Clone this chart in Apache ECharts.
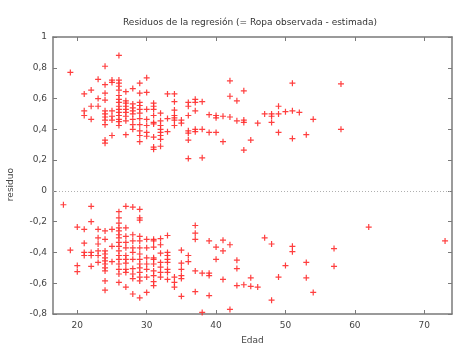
<!DOCTYPE html>
<html>
<head>
<meta charset="utf-8">
<script src="https://cdn.jsdelivr.net/npm/echarts@6/dist/echarts.min.js"></script>
<style>
html, body { margin: 0; padding: 0; background: #fff; }
#ct1 { width: 453px; height: 350px; }
</style>
</head>
<body>
<div id="ct1"></div>
<script>
// edades (x) y residuos, agrupados por edad
var edades = [18, 19, 20, 21, 22, 23, 24, 25, 26, 27, 28, 29, 30, 31, 32, 33, 34, 35, 36, 37,
	38, 39, 40, 41, 42, 43, 44, 45, 46, 47, 48, 49, 50, 51, 52, 53, 54, 57, 58, 62, 73];

var residuosPos = [
	[], [0.77], [], [0.63, 0.52, 0.49], [0.655, 0.55, 0.465], [0.725, 0.60, 0.55],
	[0.81, 0.69, 0.635, 0.59, 0.52, 0.50, 0.48, 0.46, 0.43, 0.33, 0.31],
	[0.72, 0.705, 0.52, 0.485, 0.46, 0.36],
	[0.88, 0.72, 0.70, 0.68, 0.655, 0.62, 0.595, 0.575, 0.55, 0.53, 0.51, 0.49, 0.465, 0.45, 0.425],
	[0.645, 0.585, 0.57, 0.55, 0.53, 0.51, 0.485, 0.455, 0.365],
	[0.665, 0.565, 0.54, 0.52, 0.50, 0.465, 0.43, 0.40],
	[0.70, 0.635, 0.575, 0.555, 0.53, 0.505, 0.47, 0.43, 0.39, 0.36, 0.32],
	[0.735, 0.64, 0.53, 0.465, 0.425, 0.38, 0.355],
	[0.57, 0.55, 0.53, 0.49, 0.445, 0.435, 0.35, 0.285, 0.27],
	[0.505, 0.455, 0.425, 0.40, 0.38, 0.36, 0.335, 0.29],
	[0.63, 0.47, 0.385],
	[0.63, 0.58, 0.525, 0.49, 0.475, 0.46, 0.425],
	[0.46, 0.44],
	[0.575, 0.55, 0.49, 0.39, 0.375, 0.33, 0.21],
	[0.595, 0.575, 0.52, 0.40, 0.385],
	[0.58, 0.40, 0.215], [0.495, 0.38], [0.49, 0.475, 0.38], [0.485, 0.32],
	[0.715, 0.615, 0.48], [0.585, 0.455], [0.65, 0.46, 0.445, 0.265], [0.33], [0.44],
	[0.50], [0.50, 0.485, 0.445], [0.55, 0.50, 0.38], [0.515], [0.70, 0.52, 0.34],
	[0.51], [0.365], [0.465], [], [0.695, 0.40], [], []
];

var residuosNeg = [
	[-0.09], [-0.385], [-0.235, -0.485, -0.525], [-0.25, -0.34, -0.40, -0.42],
	[-0.10, -0.20, -0.40, -0.42, -0.49],
	[-0.25, -0.305, -0.345, -0.39, -0.42, -0.465],
	[-0.26, -0.315, -0.39, -0.41, -0.435, -0.455, -0.475, -0.50, -0.52, -0.585, -0.645],
	[-0.25, -0.36, -0.46],
	[-0.135, -0.175, -0.21, -0.24, -0.26, -0.285, -0.305, -0.335, -0.36, -0.39, -0.42, -0.445, -0.475, -0.51, -0.54, -0.595],
	[-0.10, -0.24, -0.295, -0.335, -0.37, -0.42, -0.445, -0.47, -0.51, -0.53, -0.625],
	[-0.105, -0.285, -0.325, -0.37, -0.40, -0.445, -0.505, -0.54, -0.57, -0.67],
	[-0.12, -0.175, -0.19, -0.295, -0.325, -0.37, -0.41, -0.445, -0.475, -0.50, -0.53, -0.56, -0.585, -0.695],
	[-0.315, -0.37, -0.435, -0.475, -0.51, -0.56, -0.66],
	[-0.315, -0.325, -0.365, -0.435, -0.445, -0.475, -0.52, -0.55, -0.59, -0.615],
	[-0.31, -0.35, -0.405, -0.465, -0.495, -0.53, -0.56],
	[-0.29, -0.40, -0.42, -0.445, -0.465, -0.51, -0.53, -0.575],
	[-0.56, -0.595, -0.625],
	[-0.385, -0.47, -0.51, -0.55, -0.57, -0.685],
	[-0.42, -0.46],
	[-0.225, -0.275, -0.315, -0.52, -0.655],
	[-0.535, -0.79], [-0.325, -0.535, -0.55, -0.68], [-0.365, -0.445], [-0.32, -0.39, -0.575],
	[-0.35, -0.77], [-0.45, -0.505, -0.615], [-0.61], [-0.565, -0.62], [-0.625],
	[-0.305], [-0.345, -0.71], [-0.56], [-0.485], [-0.36, -0.395], [], [-0.465, -0.565],
	[-0.66], [-0.375, -0.49], [], [-0.235], [-0.325]
];

var xTicks = [20, 30, 40, 50, 60, 70];

var puntos = [];
edades.forEach(function(e, i) {
	residuosPos[i].forEach(function(r) { puntos.push([e, r]); });
	residuosNeg[i].forEach(function(r) { puntos.push([e, r]); });
});

function fmtY(v) {
	return String(Math.round(v * 10) / 10).replace('.', ',');
}

var gris = '#7a7a7a';
var fuente = 'DejaVu Sans';
var plus = 'path://M2,0H3V2H5V3H3V5H2V3H0V2H2Z';

var option1 = {
	animation: false,
	backgroundColor: '#fff',
	title: {
		text: 'Residuos de la regresión (= Ropa observada - estimada)',
		left: 118, top: 13,
		textStyle: { fontFamily: fuente, fontSize: 9, fontWeight: 'normal', color: '#333' }
	},
	grid: { left: 53, right: 1, top: 37, bottom: 33 },
	xAxis: [{
		type: 'value', min: 16.5, max: 74,
		name: 'Edad', nameLocation: 'middle', nameGap: 22,
		nameTextStyle: { fontFamily: fuente, fontSize: 9, color: '#444' },
		axisLine: { show: true, onZero: false, lineStyle: { color: gris, width: 1.5 } },
		axisTick: { show: true, inside: true, length: 4, customValues: xTicks, lineStyle: { color: gris } },
		axisLabel: { customValues: xTicks, margin: 7, fontFamily: fuente, fontSize: 9, color: '#444' },
		splitLine: { show: false }
	}, {
		type: 'value', min: 16.5, max: 74, position: 'top',
		axisLine: { show: true, onZero: false, lineStyle: { color: gris, width: 1.5 } },
		axisTick: { show: true, inside: true, length: 4, customValues: xTicks, lineStyle: { color: gris } },
		axisLabel: { show: false },
		splitLine: { show: false }
	}],
	yAxis: [{
		type: 'value', min: -0.8, max: 1, interval: 0.2,
		axisLine: { show: true, onZero: false, lineStyle: { color: gris, width: 1.5 } },
		axisTick: { show: true, inside: true, length: 4, lineStyle: { color: gris } },
		axisLabel: { formatter: fmtY, margin: 6, fontFamily: fuente, fontSize: 9, color: '#444' },
		splitLine: { show: false }
	}, {
		type: 'value', min: -0.8, max: 1, interval: 0.2, position: 'right',
		axisLine: { show: true, onZero: false, lineStyle: { color: gris, width: 1.5 } },
		axisTick: { show: true, inside: true, length: 4, lineStyle: { color: gris } },
		axisLabel: { show: false },
		splitLine: { show: false }
	}],
	graphic: [{
		type: 'text', left: 6, top: 168, rotation: Math.PI / 2,
		style: { text: 'residuo', font: '9px "DejaVu Sans"', fill: '#444' }
	}],
	series: [{
		type: 'scatter',
		data: puntos,
		symbol: plus,
		symbolSize: 6,
		itemStyle: { color: '#ff2a2a', opacity: 0.9 },
		markLine: {
			silent: true, symbol: 'none', label: { show: false },
			lineStyle: { color: '#b0b0b0', type: [1, 2], width: 1 },
			data: [{ yAxis: 0 }]
		}
	}]
};

var myChart1 = echarts.init(document.getElementById('ct1'));
myChart1.setOption(option1, true);
</script>
</body>
</html>
